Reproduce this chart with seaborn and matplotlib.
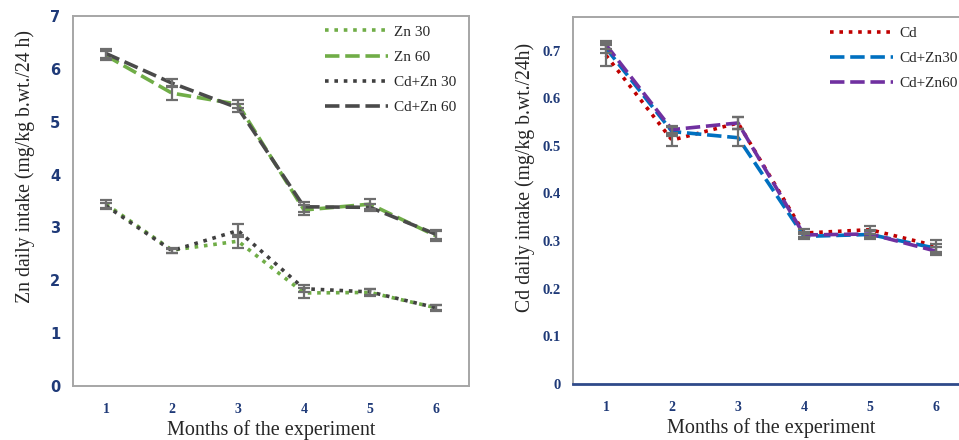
import numpy as np
import pandas as pd
import seaborn as sns
import matplotlib.pyplot as plt
from matplotlib.lines import Line2D

months = [1, 2, 3, 4, 5, 6]

# left panel: Zn daily intake
zn30 = [3.44, 2.57, 2.74, 1.76, 1.77, 1.48]
zn30_err = [0.07, 0.05, 0.12, 0.09, 0.06, 0.06]
zn60 = [6.25, 5.54, 5.33, 3.33, 3.44, 2.84]
zn60_err = [0.09, 0.13, 0.08, 0.10, 0.09, 0.09]
cdzn30 = [3.41, 2.56, 2.94, 1.84, 1.78, 1.48]
cdzn30_err = [0.06, 0.04, 0.12, 0.07, 0.05, 0.05]
cdzn60 = [6.29, 5.73, 5.26, 3.39, 3.38, 2.87]
cdzn60_err = [0.09, 0.08, 0.08, 0.09, 0.07, 0.09]

# right panel: Cd daily intake
cd = [0.690, 0.512, 0.548, 0.317, 0.324, 0.290]
cd_err = [0.022, 0.012, 0.012, 0.008, 0.008, 0.012]
cd_zn30 = [0.705, 0.530, 0.517, 0.310, 0.314, 0.285]
cd_zn30_err = [0.010, 0.010, 0.018, 0.006, 0.010, 0.010]
cd_zn60 = [0.712, 0.534, 0.548, 0.313, 0.315, 0.279]
cd_zn60_err = [0.008, 0.008, 0.012, 0.006, 0.006, 0.008]

left_names = ['Zn 30', 'Zn 60', 'Cd+Zn 30', 'Cd+Zn 60']
left_vals = [zn30, zn60, cdzn30, cdzn60]
left_errs = [zn30_err, zn60_err, cdzn30_err, cdzn60_err]
left_colors = ['#70ad47', '#70ad47', '#404040', '#4a4a4a']
left_dash = [(1, 1.6), (4, 1.6), (1, 1.6), (4, 1.6)]

right_names = ['Cd', 'Cd+Zn30', 'Cd+Zn60']
right_vals = [cd, cd_zn30, cd_zn60]
right_errs = [cd_err, cd_zn30_err, cd_zn60_err]
right_colors = ['#c00000', '#0070c0', '#7030a0']
right_dash = [(1, 1.6), (4, 1.6), (4, 1.6)]

sns.set_style('white')
serif = ['Liberation Serif', 'DejaVu Serif']
tick_col = '#1f3a78'

fig = plt.figure(figsize=(9.59, 4.4), dpi=100)
ax1 = fig.add_axes([0.0761, 0.1227, 0.413, 0.841])
ax2 = fig.add_axes([0.5975, 0.127, 0.413, 0.834])


def draw(ax, names, vals, errs, colors, dashes, leg_x):
    df = pd.DataFrame({
        'month': np.tile(months, len(names)),
        'value': np.concatenate(vals),
        'group': np.repeat(names, len(months)),
    })
    pal = dict(zip(names, colors))
    dsh = dict(zip(names, dashes))
    sns.lineplot(data=df, x='month', y='value', hue='group', style='group',
                 palette=pal, dashes=dsh, linewidth=2.6, legend=False, ax=ax,
                 errorbar=None, hue_order=names, style_order=names)
    for v, e in zip(vals, errs):
        ax.errorbar(months, v, yerr=e, fmt='none', ecolor='#6e6e6e',
                    elinewidth=1.6, capsize=4.3, capthick=1.6, zorder=5)
    handles = [Line2D([], [], color=c, linewidth=2.6, dashes=d)
               for c, d in zip(colors, dashes)]
    ax.legend(handles, names, loc='upper left', bbox_to_anchor=(leg_x, 0.992),
              frameon=False, handlelength=4.1, handletextpad=0.4,
              labelspacing=0.75, prop={'family': serif, 'size': 11},
              borderaxespad=0)
    ax.set_xlim(0.5, 6.5)
    ax.set_xticks(months)
    ax.tick_params(length=0)
    for lab in ax.get_xticklabels():
        lab.set_fontfamily(serif)
        lab.set_fontweight('bold')
        lab.set_color(tick_col)
        lab.set_fontsize(10)
    ax.tick_params(axis='x', pad=12)
    ax.tick_params(axis='y', pad=9)
    ax.set_xlabel('Months of the experiment', family=serif, fontsize=14.5,
                  labelpad=3)


draw(ax1, left_names, left_vals, left_errs, left_colors, left_dash, 0.621)
ax1.set_ylim(0, 7)
ax1.set_yticks(range(0, 8))
for lab in ax1.get_yticklabels():
    lab.set_fontweight('bold')
    lab.set_color(tick_col)
    lab.set_fontsize(10.5)
ax1.set_ylabel('Zn daily intake (mg/kg b.wt./24 h)', family=serif,
               fontsize=14.2)
ax1.yaxis.set_label_coords(-0.095, 0.592)
for s in ax1.spines.values():
    s.set_color('#a6a6a6')
    s.set_linewidth(1.4)

draw(ax2, right_names, right_vals, right_errs, right_colors, right_dash, 0.634)
ax2.set_ylim(0, 0.77)
ax2.set_yticks(np.arange(0, 0.71, 0.1))
ax2.set_yticklabels(['0', '0.1', '0.2', '0.3', '0.4', '0.5', '0.6', '0.7'])
for lab in ax2.get_yticklabels():
    lab.set_fontfamily(serif)
    lab.set_fontweight('bold')
    lab.set_color(tick_col)
    lab.set_fontsize(10.5)
ax2.set_ylabel('Cd daily intake (mg/kg b.wt./24h)', family=serif,
               fontsize=14.2)
ax2.yaxis.set_label_coords(-0.095, 0.564)
for s in ax2.spines.values():
    s.set_color('#a6a6a6')
    s.set_linewidth(1.4)
ax2.spines['bottom'].set_color('#2f4a8a')
ax2.spines['bottom'].set_linewidth(2)

fig.savefig('out.png', dpi=100)
